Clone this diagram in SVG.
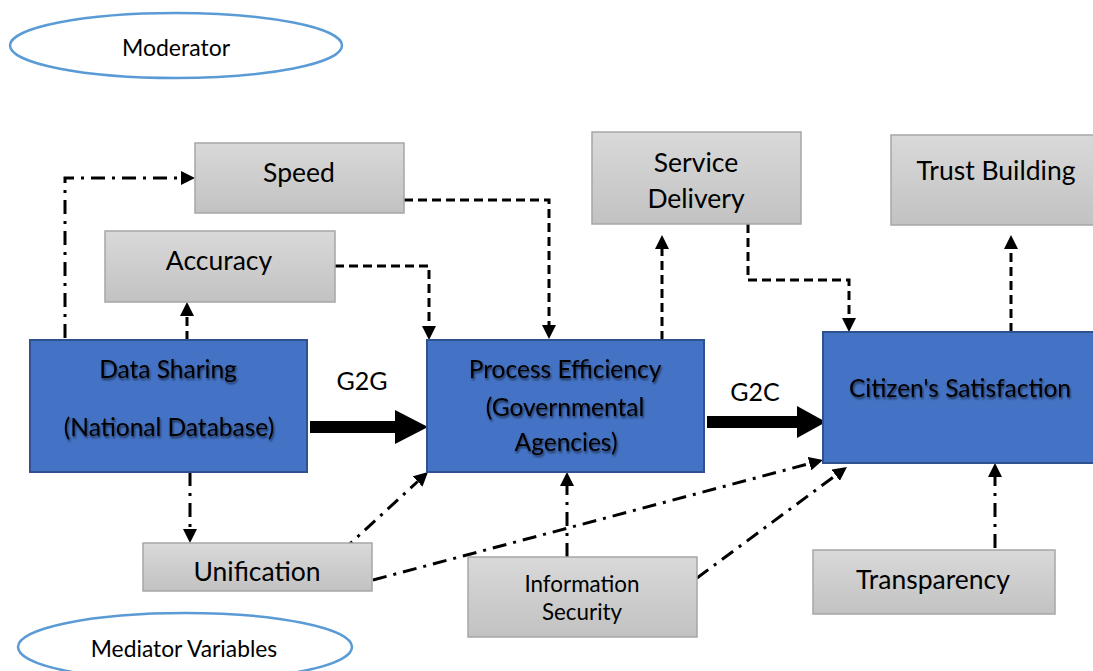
<svg xmlns="http://www.w3.org/2000/svg" width="1093" height="671" viewBox="0 0 1093 671">
<style>
  .lbl { font-family: Lato, "Liberation Sans", sans-serif; fill: #000; text-anchor: middle; }
  .gray { fill: url(#gg); stroke: #a6a6a6; stroke-width: 1.5; }
  .blue { fill: #4472c4; stroke: #2f528f; stroke-width: 2; }
  .ell { fill: #fff; stroke: #5b9bd5; stroke-width: 2.5; }
  .dash { fill: none; stroke: #000; stroke-width: 3; stroke-dasharray: 9 5; marker-end: url(#ah); }
  .dd { fill: none; stroke: #000; stroke-width: 3; stroke-dasharray: 14 7 3 7; marker-end: url(#ah); }
  .sh { filter: url(#glow); }
</style>
<defs>
  <linearGradient id="gg" x1="0" y1="0" x2="0" y2="1">
    <stop offset="0" stop-color="#d9d9d9"/>
    <stop offset="1" stop-color="#c2c2c2"/>
  </linearGradient>
  <marker id="ah" markerUnits="userSpaceOnUse" markerWidth="14" markerHeight="14" refX="0" refY="7" orient="auto">
    <path d="M0,0 L14,7 L0,14 Z" fill="#000"/>
  </marker>
  <filter id="glow" x="-10%" y="-30%" width="120%" height="160%">
    <feGaussianBlur in="SourceAlpha" stdDeviation="1.3"/>
    <feOffset dx="1" dy="1.5" result="b"/>
    <feComponentTransfer><feFuncA type="linear" slope="0.6"/></feComponentTransfer>
    <feMerge><feMergeNode/><feMergeNode in="SourceGraphic"/></feMerge>
  </filter>
</defs>

<g id="moderator">
  <ellipse class="ell" cx="176" cy="45.5" rx="166" ry="32.5"/>
  <text class="lbl" x="176" y="56" font-size="23">Moderator</text>
</g>
<g id="mediator">
  <ellipse class="ell" cx="185" cy="647" rx="167" ry="34"/>
  <text class="lbl" x="184" y="657" font-size="22.8">Mediator Variables</text>
</g>

<g id="connectors">
  <path class="dd" d="M65,338 V178 H181"/>
  <path class="dash" d="M187,340 V316"/>
  <path class="dash" d="M335,266 H429 V326"/>
  <path class="dash" d="M404,200 H549 V325"/>
  <path class="dash" d="M662,340 V249"/>
  <path class="dash" d="M748,224 V280 H849 V318"/>
  <path class="dash" d="M1011,332 V249"/>
  <path class="dd" d="M190,472 V529"/>
  <path class="dd" d="M342,551 L417.7,481.5"/>
  <path class="dd" d="M373,580 L809.5,463.6"/>
  <path class="dd" d="M567,557 V486"/>
  <path class="dd" d="M697,578 L835.7,475.3"/>
  <path class="dd" d="M995,548 V477"/>
  <polygon points="310,421 395,421 395,410 428,427 395,444 395,433 310,433" fill="#000"/>
  <polygon points="707,416 797,416 797,406 826,422 797,438 797,428 707,428" fill="#000"/>
</g>

<g id="g2g-label"><text class="lbl" x="362" y="390" font-size="25">G2G</text></g>
<g id="g2c-label"><text class="lbl" x="755" y="401" font-size="25">G2C</text></g>

<g id="speed">
  <rect class="gray" x="195" y="143" width="209" height="70"/>
  <text class="lbl" x="299" y="182" font-size="26.5">Speed</text>
</g>
<g id="accuracy">
  <rect class="gray" x="105" y="231" width="230" height="71"/>
  <text class="lbl" x="219" y="270" font-size="26.5">Accuracy</text>
</g>
<g id="service-delivery">
  <rect class="gray" x="592" y="132" width="209" height="92"/>
  <text class="lbl" x="696" y="172" font-size="26.5">Service</text>
  <text class="lbl" x="696" y="208" font-size="26.5">Delivery</text>
</g>
<g id="trust-building">
  <rect class="gray" x="891" y="135" width="215" height="90"/>
  <text class="lbl" x="996" y="180" font-size="26.5">Trust Building</text>
</g>
<g id="data-sharing">
  <rect class="blue" x="30" y="340" width="277" height="132"/>
  <text class="lbl sh" x="168" y="378" font-size="24.5">Data Sharing</text>
  <text class="lbl sh" x="169" y="436" font-size="24.5">(National Database)</text>
</g>
<g id="process-efficiency">
  <rect class="blue" x="427" y="340" width="277" height="132"/>
  <text class="lbl sh" x="565" y="378" font-size="24.5">Process Efficiency</text>
  <text class="lbl sh" x="565" y="416" font-size="24.5">(Governmental</text>
  <text class="lbl sh" x="566" y="451" font-size="24.5">Agencies)</text>
</g>
<g id="citizen-satisfaction">
  <rect class="blue" x="823" y="332" width="290" height="131"/>
  <text class="lbl sh" x="960" y="397" font-size="24.5">Citizen's Satisfaction</text>
</g>
<g id="unification">
  <rect class="gray" x="143" y="543" width="229" height="48"/>
  <text class="lbl" x="257" y="581" font-size="26.5">Unification</text>
</g>
<g id="information-security">
  <rect class="gray" x="468" y="557" width="229" height="80"/>
  <text class="lbl" x="582" y="592" font-size="22.4">Information</text>
  <text class="lbl" x="582" y="620" font-size="22.4">Security</text>
</g>
<g id="transparency">
  <rect class="gray" x="813" y="550" width="242" height="64"/>
  <text class="lbl" x="933" y="589" font-size="26.5">Transparency</text>
</g>
</svg>
